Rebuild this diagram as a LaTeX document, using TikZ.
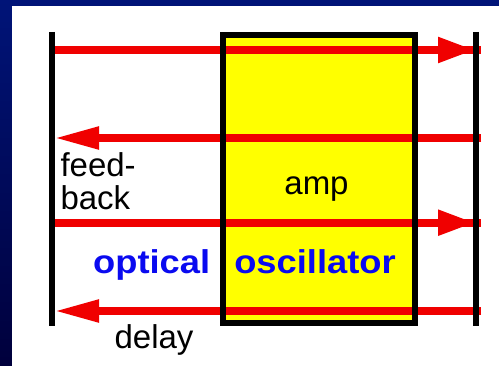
\documentclass[tikz,border=0pt]{standalone}
\usepackage{fontspec}
\setmainfont{Liberation Sans}
\usetikzlibrary{arrows.meta}
\definecolor{bgtop}{RGB}{0,20,120}
\definecolor{bgbot}{RGB}{0,0,60}
\definecolor{beam}{RGB}{240,0,0}
\definecolor{txtblue}{RGB}{10,10,240}
\definecolor{ampyellow}{RGB}{255,255,0}
\tikzset{
  beamline/.style={draw=beam, line width=8pt, line cap=butt},
  tipR/.style={-{Triangle[length=37pt,width=24pt]}},
  tipL/.style={-{Triangle[length=45pt,width=21pt]}},
  mirror/.style={draw=black, line width=5.5pt, line cap=butt},
  ampbox/.style={draw=black, line width=5.7pt, inner sep=0pt, minimum width=191.7pt, minimum height=288pt},
  plain/.style={inner sep=0pt, font=\fontsize{33}{33}\selectfont},
  bold/.style={inner sep=0pt, text=txtblue, font=\fontsize{33}{33}\selectfont\bfseries}
}
\begin{document}
\begin{tikzpicture}[x=1pt,y=-1pt]
\useasboundingbox (0,0) rectangle (499,366);
\shade[top color=bgtop, bottom color=bgbot] (0,0) rectangle (499,366);
\fill[white] (12,6) rectangle (499,366);
% amplifier box (fill first)
\fill[ampyellow] (223,35) rectangle (414.7,323);
% beam coordinates
\coordinate (l1) at (54,50);   \coordinate (r1) at (481,50);
\coordinate (l2) at (54,138);  \coordinate (r2) at (481,138);
\coordinate (l3) at (54,222.7);\coordinate (r3) at (481,222.7);
\coordinate (l4) at (54,311);  \coordinate (r4) at (481,311);
% beams
\draw[beamline] (l1) -- (r1);
\draw[beamline, tipR, shorten >=6pt] (l1) -- (r1);
\draw[beamline, tipL] (r2) -- (l2);
\draw[beamline] (l3) -- (r3);
\draw[beamline, tipR, shorten >=6pt] (l3) -- (r3);
\draw[beamline, tipL] (r4) -- (l4);
% box outline
\node[ampbox] (amp) at (318.85,179) {};
% mirrors
\coordinate (mlt) at (51.8,32);  \coordinate (mlb) at (51.8,325.7);
\coordinate (mrt) at (476.2,32); \coordinate (mrb) at (476.2,325.7);
\draw[mirror] (mlt) -- (mlb);
\draw[mirror] (mrt) -- (mrb);
% texts
\node[plain, anchor=base west] (feed) at (60.3,177) {feed-};
\node[plain, anchor=base west] (back) at (60.3,210) {back};
\node[plain, anchor=base] (amplbl) at (316.5,195) {amp};
\node[plain, anchor=base] (delay) at (154,348.7) {delay};
\node[bold, anchor=base] (optical) at (151.7,274) {\scalebox{1.1}[1]{optical}};
\node[bold, anchor=base] (osc) at (315,274) {\scalebox{1.1}[1]{oscillator}};
\end{tikzpicture}
\end{document}
